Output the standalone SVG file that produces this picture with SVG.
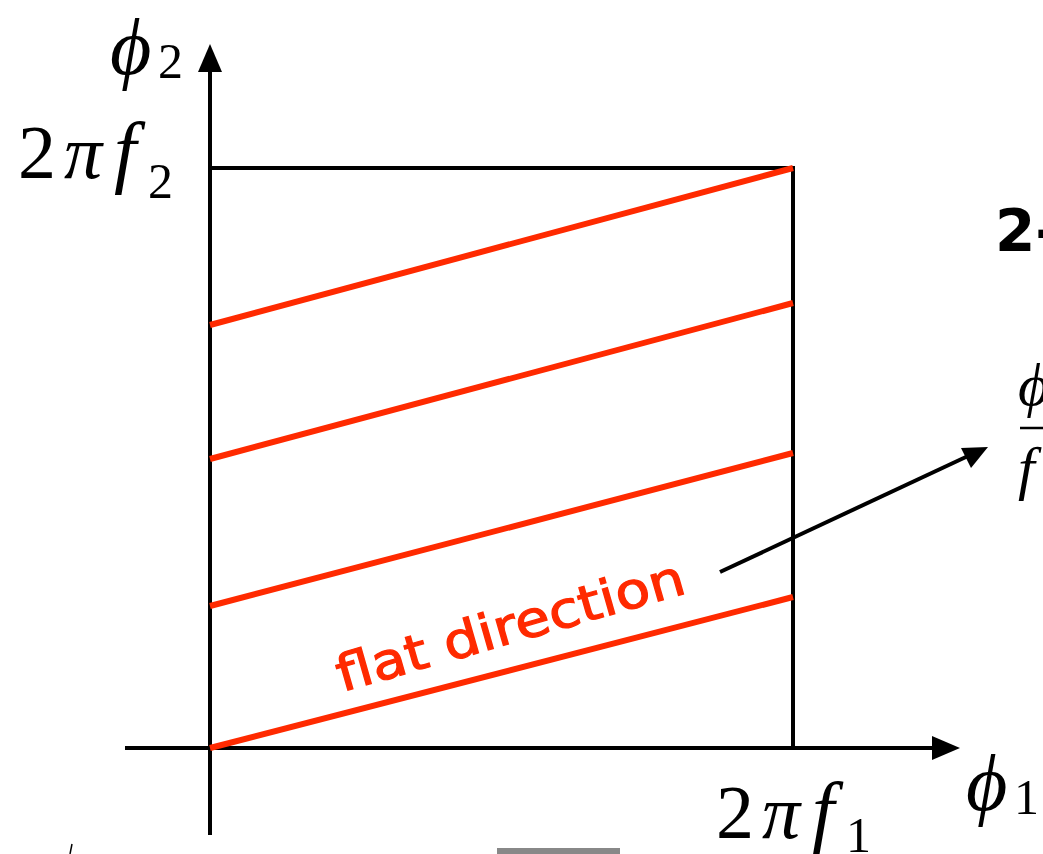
<svg xmlns="http://www.w3.org/2000/svg" width="1043" height="854" viewBox="0 0 1043 854">
<style>
.ax{stroke:#000;stroke-width:4;fill:none}
.red{stroke:#ff2a00;stroke-width:6;fill:none;stroke-linecap:butt}
.m{font-family:"Liberation Serif","DejaVu Serif",serif;fill:#000}
.mi{font-family:"Liberation Serif","DejaVu Serif",serif;font-style:italic;fill:#000}
</style>
<rect width="1043" height="854" fill="#fff"/>
<g id="axes">
<line class="ax" x1="210" y1="835" x2="210" y2="70"/>
<polygon points="210,44 198,72 222,72" fill="#000"/>
<line class="ax" x1="125" y1="748" x2="935" y2="748"/>
<polygon points="960,748 932,736 932,760" fill="#000"/>
</g>
<g id="box">
<polyline class="ax" points="210,168 793,168 793,748"/>
</g>
<g id="flatlines">
<line class="red" x1="210" y1="748" x2="793" y2="597"/>
<line class="red" x1="210" y1="606" x2="793" y2="453"/>
<line class="red" x1="210" y1="459" x2="793" y2="303"/>
<line class="red" x1="210" y1="325" x2="793" y2="168"/>
</g>
<g id="connectors">
<line x1="720" y1="572" x2="968" y2="456" stroke="#000" stroke-width="4"/>
<polygon points="988,447 961,448 971,468" fill="#000"/>
</g>
<g id="labels">
<text class="mi" x="110" y="74" font-size="80">ϕ</text><text class="m" x="158" y="78" font-size="50">2</text>
<text class="m" x="18" y="178" font-size="76">2</text><text class="mi" x="64" y="178" font-size="76">π</text><text class="mi" x="114" y="178" font-size="80">f</text><text class="m" x="148" y="198" font-size="50">2</text>
<text class="m" x="716" y="838" font-size="76">2</text><text class="mi" x="762" y="838" font-size="76">π</text><text class="mi" x="812" y="838" font-size="80">f</text><text class="m" x="846" y="852" font-size="50">1</text>
<text class="mi" x="966" y="810" font-size="80">ϕ</text><text class="m" x="1014" y="814" font-size="50">1</text>
<text x="995" y="251" font-family="DejaVu Sans,sans-serif" font-weight="bold" font-size="58" fill="#000">2-</text>
<text class="mi" x="1018" y="405" font-size="60">ϕ</text>
<line x1="1020" y1="428" x2="1043" y2="428" stroke="#000" stroke-width="2.5"/>
<text class="mi" x="1018" y="488" font-size="60">f</text>
<text x="0" y="0" transform="translate(342,692) rotate(-16)" font-family="DejaVu Sans,sans-serif" font-size="50" fill="#ff2a00" stroke="#ff2a00" stroke-width="1.2" textLength="360" lengthAdjust="spacingAndGlyphs">flat direction</text>
</g>
<line x1="72" y1="844" x2="70" y2="854" stroke="#000" stroke-width="1.5"/>
<rect x="497" y="848" width="123" height="6" fill="#888"/>
</svg>
